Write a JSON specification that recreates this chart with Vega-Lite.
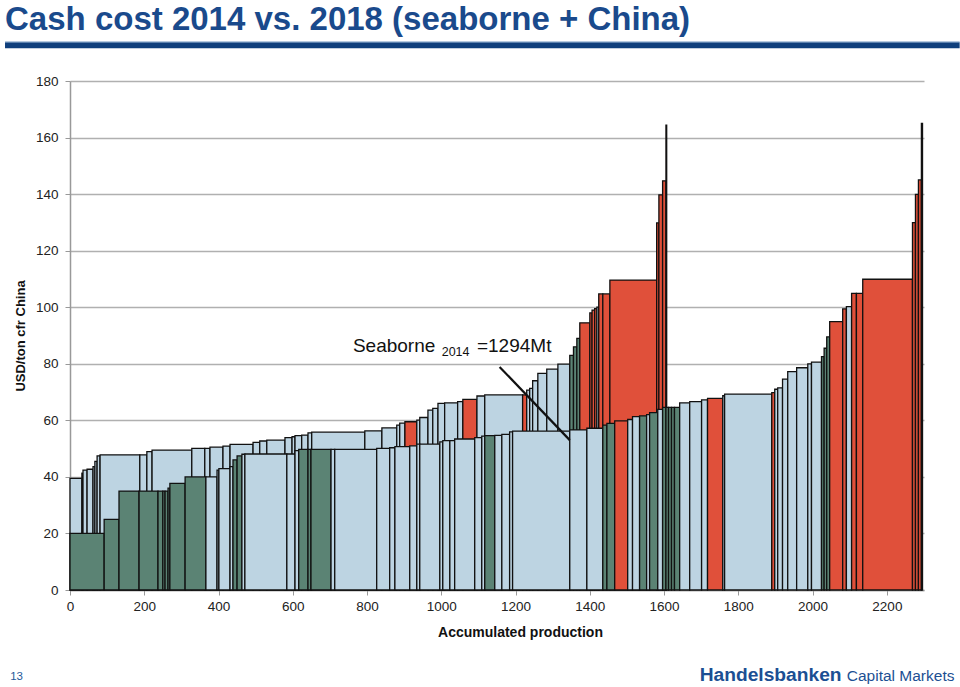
{
  "$schema": "https://vega.github.io/schema/vega-lite/v6.json",
  "width": 854,
  "height": 509,
  "autosize": {"type": "none"},
  "padding": {"left": 70, "top": 81, "right": 36, "bottom": 97},
  "background": "white",
  "data": {"values": [{}]},
  "config": {
    "view": {"stroke": null},
    "font": "Liberation Sans"
  },
  "datasets": {
    "bars": [
      {"curve": "2014", "x0": 0, "x1": 32, "cost": 39.5, "cat": "light"},
      {"curve": "2014", "x0": 32, "x1": 35, "cost": 41.3, "cat": "light"},
      {"curve": "2014", "x0": 35, "x1": 46, "cost": 42.4, "cat": "light"},
      {"curve": "2014", "x0": 46, "x1": 62, "cost": 42.7, "cat": "light"},
      {"curve": "2014", "x0": 62, "x1": 67, "cost": 43.6, "cat": "light"},
      {"curve": "2014", "x0": 67, "x1": 73, "cost": 45.5, "cat": "light"},
      {"curve": "2014", "x0": 73, "x1": 81, "cost": 47.4, "cat": "light"},
      {"curve": "2014", "x0": 81, "x1": 188, "cost": 47.8, "cat": "light"},
      {"curve": "2014", "x0": 188, "x1": 207, "cost": 47.8, "cat": "light"},
      {"curve": "2014", "x0": 207, "x1": 221, "cost": 48.9, "cat": "light"},
      {"curve": "2014", "x0": 221, "x1": 328, "cost": 49.5, "cat": "light"},
      {"curve": "2014", "x0": 328, "x1": 363, "cost": 50.1, "cat": "light"},
      {"curve": "2014", "x0": 363, "x1": 377, "cost": 50.1, "cat": "light"},
      {"curve": "2014", "x0": 377, "x1": 412, "cost": 50.5, "cat": "light"},
      {"curve": "2014", "x0": 412, "x1": 431, "cost": 50.9, "cat": "light"},
      {"curve": "2014", "x0": 431, "x1": 493, "cost": 51.5, "cat": "light"},
      {"curve": "2014", "x0": 493, "x1": 511, "cost": 52.2, "cat": "light"},
      {"curve": "2014", "x0": 511, "x1": 530, "cost": 52.7, "cat": "light"},
      {"curve": "2014", "x0": 530, "x1": 579, "cost": 53.0, "cat": "light"},
      {"curve": "2014", "x0": 579, "x1": 598, "cost": 53.9, "cat": "light"},
      {"curve": "2014", "x0": 598, "x1": 606, "cost": 54.2, "cat": "light"},
      {"curve": "2014", "x0": 606, "x1": 624, "cost": 54.6, "cat": "light"},
      {"curve": "2014", "x0": 624, "x1": 641, "cost": 54.8, "cat": "light"},
      {"curve": "2014", "x0": 641, "x1": 651, "cost": 55.6, "cat": "light"},
      {"curve": "2014", "x0": 651, "x1": 794, "cost": 55.8, "cat": "light"},
      {"curve": "2014", "x0": 794, "x1": 840, "cost": 56.3, "cat": "light"},
      {"curve": "2014", "x0": 840, "x1": 880, "cost": 57.3, "cat": "light"},
      {"curve": "2014", "x0": 880, "x1": 888, "cost": 58.3, "cat": "light"},
      {"curve": "2014", "x0": 888, "x1": 902, "cost": 59.0, "cat": "light"},
      {"curve": "2014", "x0": 902, "x1": 934, "cost": 59.5, "cat": "red"},
      {"curve": "2014", "x0": 934, "x1": 942, "cost": 60.1, "cat": "light"},
      {"curve": "2014", "x0": 942, "x1": 964, "cost": 61.0, "cat": "light"},
      {"curve": "2014", "x0": 964, "x1": 977, "cost": 63.6, "cat": "light"},
      {"curve": "2014", "x0": 977, "x1": 991, "cost": 64.2, "cat": "light"},
      {"curve": "2014", "x0": 991, "x1": 1009, "cost": 66.0, "cat": "light"},
      {"curve": "2014", "x0": 1009, "x1": 1044, "cost": 66.2, "cat": "light"},
      {"curve": "2014", "x0": 1044, "x1": 1058, "cost": 66.6, "cat": "light"},
      {"curve": "2014", "x0": 1058, "x1": 1096, "cost": 67.4, "cat": "red"},
      {"curve": "2014", "x0": 1096, "x1": 1117, "cost": 68.6, "cat": "light"},
      {"curve": "2014", "x0": 1117, "x1": 1219, "cost": 69.0, "cat": "light"},
      {"curve": "2014", "x0": 1219, "x1": 1230, "cost": 69.0, "cat": "red"},
      {"curve": "2014", "x0": 1230, "x1": 1238, "cost": 70.7, "cat": "light"},
      {"curve": "2014", "x0": 1238, "x1": 1246, "cost": 71.3, "cat": "light"},
      {"curve": "2014", "x0": 1246, "x1": 1260, "cost": 74.0, "cat": "light"},
      {"curve": "2014", "x0": 1260, "x1": 1284, "cost": 76.6, "cat": "light"},
      {"curve": "2014", "x0": 1284, "x1": 1314, "cost": 78.1, "cat": "light"},
      {"curve": "2014", "x0": 1314, "x1": 1346, "cost": 79.9, "cat": "light"},
      {"curve": "2014", "x0": 1346, "x1": 1356, "cost": 83.0, "cat": "green"},
      {"curve": "2014", "x0": 1356, "x1": 1365, "cost": 86.0, "cat": "green"},
      {"curve": "2014", "x0": 1365, "x1": 1373, "cost": 89.0, "cat": "green"},
      {"curve": "2014", "x0": 1373, "x1": 1400, "cost": 94.5, "cat": "red"},
      {"curve": "2014", "x0": 1400, "x1": 1406, "cost": 98.0, "cat": "red"},
      {"curve": "2014", "x0": 1406, "x1": 1413, "cost": 99.0, "cat": "red"},
      {"curve": "2014", "x0": 1413, "x1": 1419, "cost": 99.5, "cat": "red"},
      {"curve": "2014", "x0": 1419, "x1": 1424, "cost": 100.0, "cat": "light"},
      {"curve": "2014", "x0": 1424, "x1": 1435, "cost": 104.7, "cat": "red"},
      {"curve": "2014", "x0": 1435, "x1": 1454, "cost": 104.7, "cat": "red"},
      {"curve": "2014", "x0": 1454, "x1": 1580, "cost": 109.6, "cat": "red"},
      {"curve": "2014", "x0": 1580, "x1": 1586, "cost": 129.8, "cat": "red"},
      {"curve": "2014", "x0": 1586, "x1": 1596, "cost": 139.7, "cat": "red"},
      {"curve": "2014", "x0": 1596, "x1": 1605, "cost": 144.7, "cat": "red"},
      {"curve": "2014", "x0": 1605, "x1": 1607, "cost": 164.4, "cat": "red"},

      {"curve": "2018", "x0": 0, "x1": 92, "cost": 20.0, "cat": "green"},
      {"curve": "2018", "x0": 92, "x1": 132, "cost": 25.0, "cat": "green"},
      {"curve": "2018", "x0": 132, "x1": 186, "cost": 35.0, "cat": "green"},
      {"curve": "2018", "x0": 186, "x1": 237, "cost": 35.0, "cat": "green"},
      {"curve": "2018", "x0": 237, "x1": 250, "cost": 35.0, "cat": "green"},
      {"curve": "2018", "x0": 250, "x1": 256, "cost": 35.0, "cat": "green"},
      {"curve": "2018", "x0": 256, "x1": 264, "cost": 35.0, "cat": "green"},
      {"curve": "2018", "x0": 264, "x1": 269, "cost": 36.0, "cat": "green"},
      {"curve": "2018", "x0": 269, "x1": 310, "cost": 37.7, "cat": "green"},
      {"curve": "2018", "x0": 310, "x1": 366, "cost": 40.0, "cat": "green"},
      {"curve": "2018", "x0": 366, "x1": 396, "cost": 40.0, "cat": "light"},
      {"curve": "2018", "x0": 396, "x1": 401, "cost": 42.4, "cat": "light"},
      {"curve": "2018", "x0": 401, "x1": 431, "cost": 42.9, "cat": "light"},
      {"curve": "2018", "x0": 431, "x1": 439, "cost": 43.6, "cat": "light"},
      {"curve": "2018", "x0": 439, "x1": 450, "cost": 46.0, "cat": "green"},
      {"curve": "2018", "x0": 450, "x1": 463, "cost": 47.4, "cat": "green"},
      {"curve": "2018", "x0": 463, "x1": 471, "cost": 48.0, "cat": "light"},
      {"curve": "2018", "x0": 471, "x1": 584, "cost": 48.1, "cat": "light"},
      {"curve": "2018", "x0": 584, "x1": 606, "cost": 48.1, "cat": "light"},
      {"curve": "2018", "x0": 606, "x1": 616, "cost": 49.3, "cat": "light"},
      {"curve": "2018", "x0": 616, "x1": 641, "cost": 49.7, "cat": "green"},
      {"curve": "2018", "x0": 641, "x1": 649, "cost": 49.7, "cat": "green"},
      {"curve": "2018", "x0": 649, "x1": 703, "cost": 49.7, "cat": "green"},
      {"curve": "2018", "x0": 703, "x1": 713, "cost": 49.7, "cat": "light"},
      {"curve": "2018", "x0": 713, "x1": 826, "cost": 49.7, "cat": "light"},
      {"curve": "2018", "x0": 826, "x1": 861, "cost": 50.1, "cat": "light"},
      {"curve": "2018", "x0": 861, "x1": 875, "cost": 50.3, "cat": "light"},
      {"curve": "2018", "x0": 875, "x1": 915, "cost": 50.7, "cat": "light"},
      {"curve": "2018", "x0": 915, "x1": 934, "cost": 51.0, "cat": "light"},
      {"curve": "2018", "x0": 934, "x1": 942, "cost": 51.6, "cat": "light"},
      {"curve": "2018", "x0": 942, "x1": 996, "cost": 51.6, "cat": "light"},
      {"curve": "2018", "x0": 996, "x1": 1004, "cost": 52.4, "cat": "light"},
      {"curve": "2018", "x0": 1004, "x1": 1023, "cost": 52.8, "cat": "light"},
      {"curve": "2018", "x0": 1023, "x1": 1036, "cost": 52.8, "cat": "light"},
      {"curve": "2018", "x0": 1036, "x1": 1090, "cost": 53.4, "cat": "light"},
      {"curve": "2018", "x0": 1090, "x1": 1109, "cost": 53.9, "cat": "light"},
      {"curve": "2018", "x0": 1109, "x1": 1117, "cost": 54.4, "cat": "light"},
      {"curve": "2018", "x0": 1117, "x1": 1144, "cost": 54.6, "cat": "green"},
      {"curve": "2018", "x0": 1144, "x1": 1163, "cost": 54.7, "cat": "light"},
      {"curve": "2018", "x0": 1163, "x1": 1184, "cost": 55.0, "cat": "light"},
      {"curve": "2018", "x0": 1184, "x1": 1192, "cost": 55.9, "cat": "light"},
      {"curve": "2018", "x0": 1192, "x1": 1346, "cost": 56.2, "cat": "light"},
      {"curve": "2018", "x0": 1346, "x1": 1392, "cost": 56.6, "cat": "light"},
      {"curve": "2018", "x0": 1392, "x1": 1435, "cost": 57.2, "cat": "light"},
      {"curve": "2018", "x0": 1435, "x1": 1446, "cost": 58.3, "cat": "green"},
      {"curve": "2018", "x0": 1446, "x1": 1467, "cost": 58.9, "cat": "green"},
      {"curve": "2018", "x0": 1467, "x1": 1502, "cost": 59.8, "cat": "red"},
      {"curve": "2018", "x0": 1502, "x1": 1515, "cost": 60.3, "cat": "light"},
      {"curve": "2018", "x0": 1515, "x1": 1534, "cost": 61.3, "cat": "light"},
      {"curve": "2018", "x0": 1534, "x1": 1553, "cost": 61.6, "cat": "green"},
      {"curve": "2018", "x0": 1553, "x1": 1561, "cost": 62.0, "cat": "light"},
      {"curve": "2018", "x0": 1561, "x1": 1583, "cost": 62.7, "cat": "green"},
      {"curve": "2018", "x0": 1583, "x1": 1596, "cost": 63.9, "cat": "light"},
      {"curve": "2018", "x0": 1596, "x1": 1605, "cost": 64.6, "cat": "green"},
      {"curve": "2018", "x0": 1605, "x1": 1612, "cost": 64.6, "cat": "green"},
      {"curve": "2018", "x0": 1612, "x1": 1620, "cost": 64.6, "cat": "green"},
      {"curve": "2018", "x0": 1620, "x1": 1628, "cost": 64.6, "cat": "green"},
      {"curve": "2018", "x0": 1628, "x1": 1642, "cost": 64.6, "cat": "green"},
      {"curve": "2018", "x0": 1642, "x1": 1669, "cost": 66.2, "cat": "light"},
      {"curve": "2018", "x0": 1669, "x1": 1701, "cost": 66.6, "cat": "light"},
      {"curve": "2018", "x0": 1701, "x1": 1717, "cost": 67.2, "cat": "light"},
      {"curve": "2018", "x0": 1717, "x1": 1758, "cost": 67.8, "cat": "red"},
      {"curve": "2018", "x0": 1758, "x1": 1763, "cost": 68.7, "cat": "light"},
      {"curve": "2018", "x0": 1763, "x1": 1890, "cost": 69.3, "cat": "light"},
      {"curve": "2018", "x0": 1890, "x1": 1898, "cost": 69.8, "cat": "red"},
      {"curve": "2018", "x0": 1898, "x1": 1906, "cost": 71.0, "cat": "light"},
      {"curve": "2018", "x0": 1906, "x1": 1919, "cost": 71.5, "cat": "light"},
      {"curve": "2018", "x0": 1919, "x1": 1933, "cost": 74.6, "cat": "light"},
      {"curve": "2018", "x0": 1933, "x1": 1957, "cost": 77.2, "cat": "light"},
      {"curve": "2018", "x0": 1957, "x1": 1987, "cost": 78.6, "cat": "light"},
      {"curve": "2018", "x0": 1987, "x1": 1997, "cost": 80.0, "cat": "light"},
      {"curve": "2018", "x0": 1997, "x1": 2024, "cost": 80.6, "cat": "light"},
      {"curve": "2018", "x0": 2024, "x1": 2031, "cost": 82.5, "cat": "green"},
      {"curve": "2018", "x0": 2031, "x1": 2038, "cost": 85.5, "cat": "green"},
      {"curve": "2018", "x0": 2038, "x1": 2046, "cost": 89.5, "cat": "green"},
      {"curve": "2018", "x0": 2046, "x1": 2081, "cost": 94.9, "cat": "red"},
      {"curve": "2018", "x0": 2081, "x1": 2091, "cost": 99.4, "cat": "red"},
      {"curve": "2018", "x0": 2091, "x1": 2105, "cost": 100.2, "cat": "light"},
      {"curve": "2018", "x0": 2105, "x1": 2118, "cost": 104.9, "cat": "red"},
      {"curve": "2018", "x0": 2118, "x1": 2135, "cost": 104.9, "cat": "red"},
      {"curve": "2018", "x0": 2135, "x1": 2269, "cost": 109.9, "cat": "red"},
      {"curve": "2018", "x0": 2269, "x1": 2277, "cost": 129.9, "cat": "red"},
      {"curve": "2018", "x0": 2277, "x1": 2285, "cost": 139.9, "cat": "red"},
      {"curve": "2018", "x0": 2285, "x1": 2293, "cost": 145.0, "cat": "red"},
      {"curve": "2018", "x0": 2293, "x1": 2296, "cost": 165.0, "cat": "red"}
    ]
  },
  "layer": [
    {
      "data": {"name": "bars"},
      "mark": {"type": "rect", "stroke": "#111111", "strokeWidth": 1.3},
      "encoding": {
        "x": {
          "field": "x0", "type": "quantitative",
          "scale": {"domain": [0, 2300], "nice": false, "zero": false},
          "axis": {
            "values": [0, 200, 400, 600, 800, 1000, 1200, 1400, 1600, 1800, 2000, 2200],
            "format": "d",
            "grid": false,
            "domainColor": "#999999",
            "domainWidth": 1.5,
            "tickColor": "#999999",
            "tickSize": 5,
            "labelFontSize": 13.5,
            "labelColor": "#222222",
            "labelPadding": 4,
            "labelFlush": false,
            "title": "Accumulated production",
            "titleFontSize": 14,
            "titleFontWeight": "bold",
            "titleColor": "#111111",
            "titlePadding": 13,
            "titleX": 450
          }
        },
        "x2": {"field": "x1"},
        "y": {
          "field": "cost", "type": "quantitative",
          "scale": {"domain": [0, 180], "nice": false},
          "axis": {
            "values": [0, 20, 40, 60, 80, 100, 120, 140, 160, 180],
            "grid": true,
            "gridColor": "#b0b0b0",
            "gridWidth": 1.5,
            "domainColor": "#999999",
            "domainWidth": 1.5,
            "tickColor": "#999999",
            "tickSize": 5,
            "labelFontSize": 13.5,
            "labelColor": "#222222",
            "labelPadding": 7,
            "title": "USD/ton cfr China",
            "titleFontSize": 13,
            "titleFontWeight": "bold",
            "titleColor": "#111111",
            "titlePadding": 8
          }
        },
        "y2": {"datum": 0},
        "color": {
          "field": "cat", "type": "nominal",
          "scale": {"domain": ["light", "green", "red"], "range": ["#bdd4e2", "#5b8374", "#e0503a"]},
          "legend": null
        }
      }
    },
    {
      "mark": {"type": "rule", "color": "#111111", "strokeWidth": 2.2},
      "encoding": {
        "x": {"datum": 1157},
        "y": {"datum": 78.9},
        "x2": {"datum": 1346},
        "y2": {"datum": 53.0}
      }
    },
    {
      "mark": {"type": "text", "text": "Seaborne", "align": "left", "baseline": "alphabetic", "fontSize": 19, "color": "#111111"},
      "encoding": {"x": {"datum": 762}, "y": {"datum": 84.3}}
    },
    {
      "mark": {"type": "text", "text": "2014", "align": "left", "baseline": "alphabetic", "fontSize": 12.5, "color": "#111111"},
      "encoding": {"x": {"datum": 1001}, "y": {"datum": 82.7}}
    },
    {
      "mark": {"type": "text", "text": "=1294Mt", "align": "left", "baseline": "alphabetic", "fontSize": 19, "color": "#111111"},
      "encoding": {"x": {"datum": 1096}, "y": {"datum": 84.3}}
    },
    {
      "mark": {"type": "text", "text": "Cash cost 2014 vs. 2018 (seaborne + China)", "align": "left", "baseline": "alphabetic", "fontSize": 33, "fontWeight": "bold", "color": "#1a4a8c"},
      "encoding": {"x": {"datum": -175}, "y": {"datum": 198.2}}
    },
    {
      "mark": {"type": "rule", "color": "#0f3f7c", "strokeWidth": 6},
      "encoding": {
        "x": {"datum": -175},
        "x2": {"datum": 2396},
        "y": {"datum": 192.6}
      }
    },
    {
      "mark": {"type": "rule", "color": "#6f93c0", "strokeWidth": 1.2},
      "encoding": {
        "x": {"datum": -175},
        "x2": {"datum": 2396},
        "y": {"datum": 193.8}
      }
    },
    {
      "mark": {"type": "text", "text": "13", "align": "left", "baseline": "alphabetic", "fontSize": 11.5, "color": "#1f5a9a"},
      "encoding": {"x": {"datum": -161}, "y": {"datum": -31.8}}
    },
    {
      "mark": {"type": "text", "text": "Handelsbanken", "align": "left", "baseline": "alphabetic", "fontSize": 19.2, "fontWeight": "bold", "color": "#1c4f93"},
      "encoding": {"x": {"datum": 1696}, "y": {"datum": -32.2}}
    },
    {
      "mark": {"type": "text", "text": "Capital Markets", "align": "left", "baseline": "alphabetic", "fontSize": 15.5, "color": "#1c4f93"},
      "encoding": {"x": {"datum": 2092}, "y": {"datum": -32.2}}
    }
  ]
}
